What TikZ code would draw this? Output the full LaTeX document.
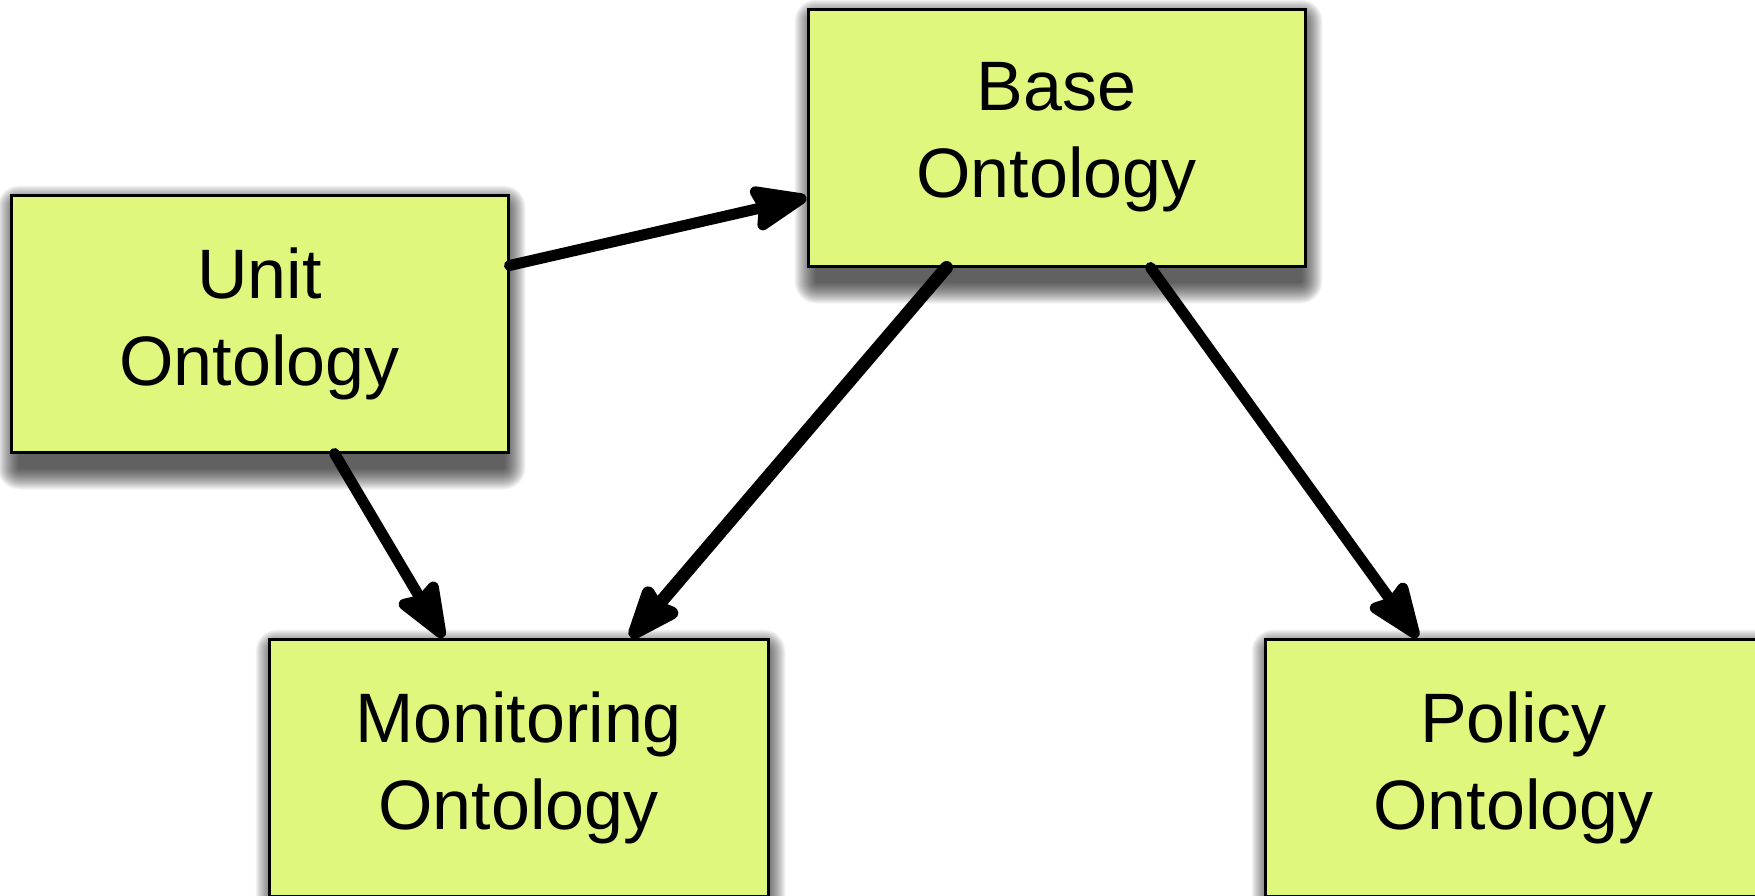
\documentclass[tikz,border=0pt]{standalone}
\usepackage{fontspec}
\setmainfont{Liberation Sans}
\usepackage{tikz}
\usetikzlibrary{arrows.meta,backgrounds}

\definecolor{ontofill}{RGB}{224,247,126}

\begin{document}
\begin{tikzpicture}[x=1pt,y=-1pt,
		onto/.style={draw,line width=3pt,fill=ontofill,
			minimum width=497pt,minimum height=257pt,
			align=center,font=\fontsize{70}{87}\selectfont},
		haze/.style={fill=black,opacity=0.045},
		uses/.style={line width=11pt,line cap=round,
			-{Stealth[length=66pt,width=50pt,inset=7pt,round=false]}}]
					\clip (0,0) rectangle (1755,895);
					\node[onto](base) at (1056.5,137.5){Base\\Ontology};
					\node[onto](unit) at (259.5,323.5){Unit\\Ontology};
					\node[onto,minimum width=499pt](mon) at (518.5,767.5){Monitoring\\Ontology};
					\node[onto](pol) at (1513.5,767.5){Policy\\Ontology};
					\draw[uses] ([yshift=58pt]unit.east) -- ([yshift=-60pt]base.west);
					\draw[uses] ([xshift=75pt]unit.south) -- ([xshift=-75pt]mon.north);
					\draw[uses,line width=13pt] ([xshift=-110pt]base.south) -- ([xshift=112pt]mon.north);
					\draw[uses] ([xshift=94pt]base.south) -- ([xshift=-96pt]pol.north);
					% soft shadows under the boxes
					\begin{pgfonlayer}{background}
						\foreach \n in {base,unit,mon,pol}
							\foreach \m in {1,...,22}
								\fill[haze,rounded corners=\m pt]
									([xshift={(10-\m)*1pt},yshift={(-14-\m)*1pt}]\n.south west) rectangle
									([xshift={(\m-6)*1pt},yshift={(\m-14)*1pt}]\n.north east);
					\end{pgfonlayer}
\end{tikzpicture}
\end{document}
